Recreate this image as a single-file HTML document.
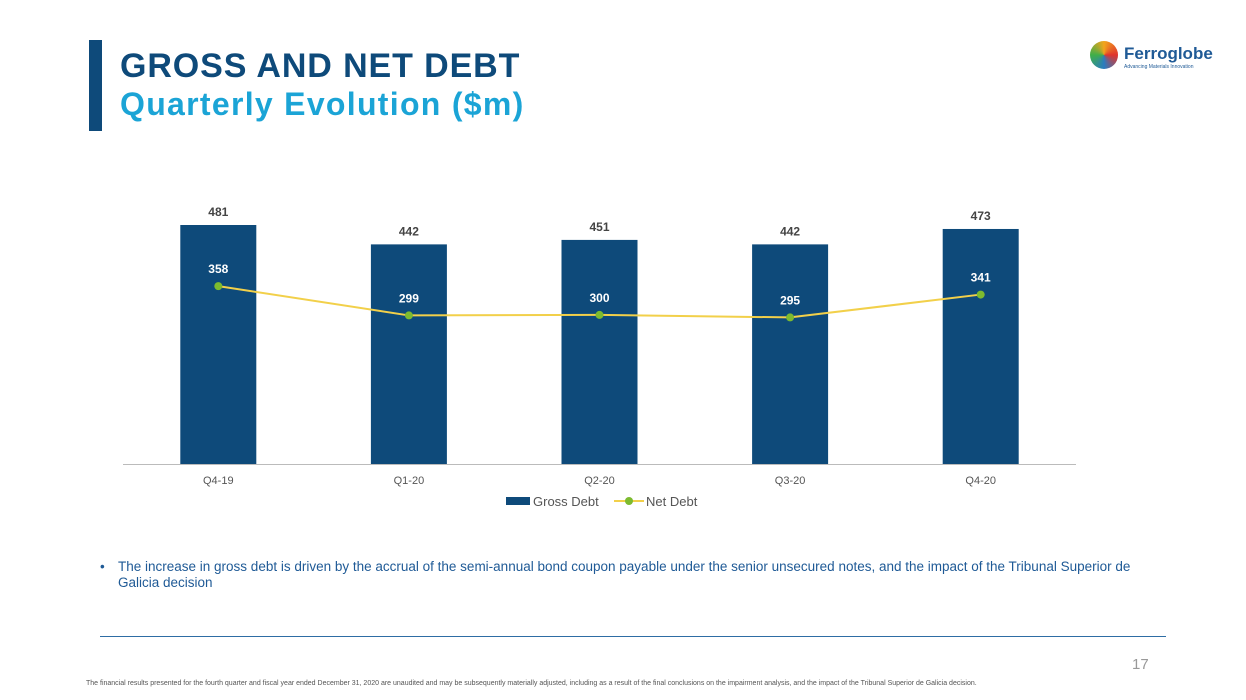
<!DOCTYPE html>
<html><head><meta charset="utf-8"><style>
body{margin:0;width:1246px;height:700px;background:#fff;font-family:"Liberation Sans",sans-serif;position:relative;overflow:hidden}
.a{position:absolute}
</style></head><body>
<div class="a" style="left:89px;top:40px;width:13px;height:91px;background:#0e4a7a"></div>
<div class="a" style="left:120px;top:47px;font-size:34px;font-weight:bold;color:#0e4a7a;letter-spacing:0.9px">GROSS AND NET DEBT</div>
<div class="a" style="left:120px;top:86px;font-size:32px;font-weight:bold;color:#1ba4d6;letter-spacing:1.3px">Quarterly Evolution ($m)</div>
<div class="a" style="left:1090px;top:40px;width:130px;height:34px">
<div style="position:absolute;left:0;top:1px;width:28px;height:28px;border-radius:50%;background:conic-gradient(#f2a51c,#e0332d,#2a7cc0,#3fae49,#f2a51c)"></div>
<div style="position:absolute;left:34px;top:4px;font-size:17px;font-weight:bold;color:#1f5a96">Ferroglobe</div>
<div style="position:absolute;left:34px;top:24px;font-size:5px;color:#1f5a96">Advancing Materials Innovation</div>
</div>
<svg class="a" style="left:0;top:0" width="1246" height="700">
<g id="g"></g>
</svg>
<div class="a" style="left:100px;top:559px;width:1070px;font-size:13.5px;color:#1f5a96;line-height:16px">
<span style="position:absolute;left:0">•</span><div style="margin-left:18px">The increase in gross debt is driven by the accrual of the semi-annual bond coupon payable under the senior unsecured notes, and the impact of the Tribunal Superior de Galicia decision</div></div>
<div class="a" style="left:100px;top:636px;width:1066px;height:1px;background:#2e6da4"></div>
<div class="a" style="left:1132px;top:656px;font-size:15px;color:#999">17</div>
<div class="a" style="left:86px;top:680px;font-size:7px;color:#555;white-space:nowrap">The financial results presented for the fourth quarter and fiscal year ended December 31, 2020 are unaudited and may be subsequently materially adjusted, including as a result of the final conclusions on the impairment analysis, and the impact of the Tribunal Superior de Galicia decision.</div>
<script>
const categories=["Q4-19","Q1-20","Q2-20","Q3-20","Q4-20"];
const grossDebt=[481,442,451,442,473];
const netDebt=[358,299,300,295,341];
const NS="http://www.w3.org/2000/svg";
const g=document.getElementById("g");
const x0=123,x1=1076,base=464,k=239/481;
const step=(x1-x0)/categories.length;
const xs=i=>x0+step*(i+0.5);
const ys=v=>base-v*k;
function el(t,a,txt){const e=document.createElementNS(NS,t);for(const p in a)e.setAttribute(p,a[p]);if(txt!=null)e.textContent=txt;g.appendChild(e);return e;}
grossDebt.forEach((v,i)=>{
 const r=el("rect",{x:xs(i)-38,y:ys(v),width:76,height:base-ys(v),fill:"#0e4a7a"});
 
 
 const t=el("text",{x:xs(i),y:ys(v)-9,"text-anchor":"middle","font-size":12,"font-weight":"bold",fill:"#444"},v);
 
 
 const c=el("text",{x:xs(i),y:base+20,"text-anchor":"middle","font-size":11,fill:"#555"},categories[i]);
 
 
});
const ax=el("line",{x1:x0,x2:x1,y1:base+0.5,y2:base+0.5,stroke:"#bbb"});


const pl=el("polyline",{points:netDebt.map((v,i)=>xs(i)+","+ys(v)).join(" "),fill:"none",stroke:"#f2d04a","stroke-width":2});


netDebt.forEach((v,i)=>{
 const c=el("circle",{cx:xs(i),cy:ys(v),r:4,fill:"#7dbb2f"});
 
 
 const t=el("text",{x:xs(i),y:ys(v)-13,"text-anchor":"middle","font-size":12,"font-weight":"bold",fill:"#fff"},v);
 
 
});
const l1=el("rect",{x:506,y:497,width:24,height:8,fill:"#0e4a7a"});


const l2=el("text",{x:533,y:506,"font-size":13,fill:"#555"},"Gross Debt");


const l3=el("line",{x1:614,x2:644,y1:501,y2:501,stroke:"#f2d04a","stroke-width":2});


const l4=el("circle",{cx:629,cy:501,r:4,fill:"#7dbb2f"});


const l5=el("text",{x:646,y:506,"font-size":13,fill:"#555"},"Net Debt");


</script>
</body></html>
